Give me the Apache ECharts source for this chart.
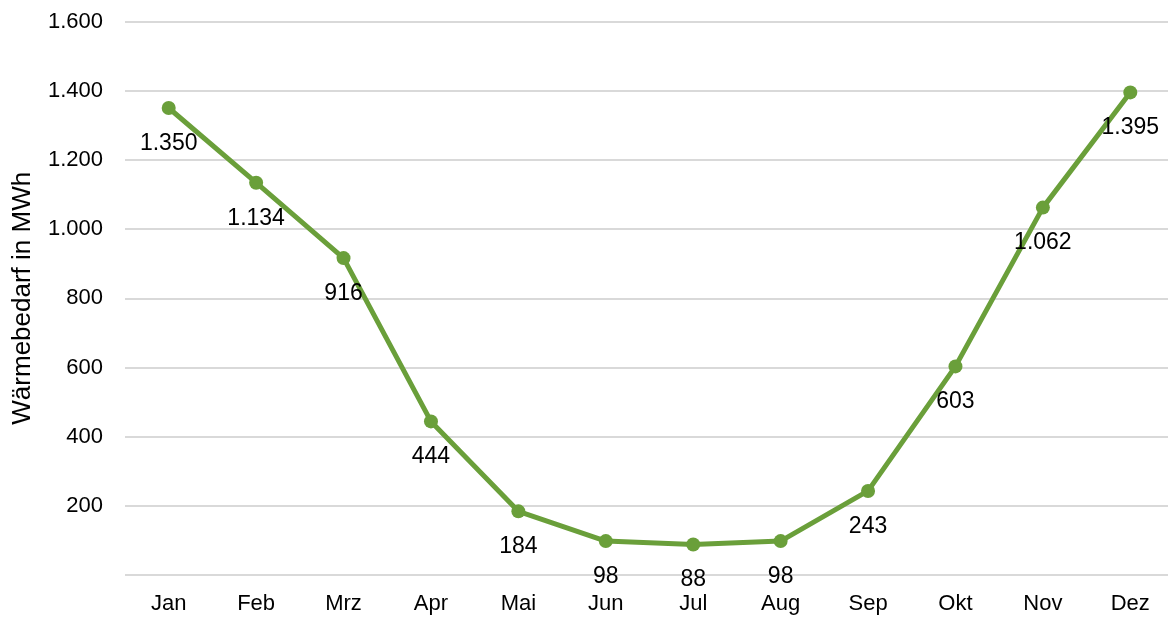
<!DOCTYPE html>
<html>
<head>
<meta charset="utf-8">
<script src="https://cdn.jsdelivr.net/npm/echarts@6/dist/echarts.min.js"></script>
<style>
  html, body { margin: 0; padding: 0; background: #fff; }
  #chart { width: 1168px; height: 618px; }
</style>
</head>
<body>
<div id="chart"></div>
<script>
// Monthly heat demand
const months = ['Jan', 'Feb', 'Mrz', 'Apr', 'Mai', 'Jun', 'Jul', 'Aug', 'Sep', 'Okt', 'Nov', 'Dez'];
const heatDemand = [1350, 1134, 916, 444, 184, 98, 88, 98, 243, 603, 1062, 1395];
const yTicks = [0, 200, 400, 600, 800, 1000, 1200, 1400, 1600];

// German thousands separator
function fmt(v) {
  return String(Math.round(v)).replace(/\B(?=(\d{3})+(?!\d))/g, '.');
}

const FONT = 'Liberation Sans, Arial, sans-serif';
const chart = echarts.init(document.getElementById('chart'), null, { renderer: 'canvas' });
chart.setOption({
  animation: false,
  backgroundColor: '#ffffff',
  grid: { left: 125, right: -6, top: 21.5, bottom: 43, containLabel: false, outerBoundsMode: 'none' },
  xAxis: {
    type: 'category',
    data: months,
    boundaryGap: true,
    axisLine: { show: false },
    axisTick: { show: false },
    axisLabel: { color: '#000', fontFamily: FONT, fontSize: 22, margin: 18 }
  },
  yAxis: {
    type: 'value',
    min: yTicks[0],
    max: yTicks[yTicks.length - 1],
    interval: 200,
    name: 'Wärmebedarf in MWh',
    nameLocation: 'middle',
    nameGap: 89,
    nameTextStyle: { color: '#000', fontFamily: FONT, fontSize: 26 },
    axisLine: { show: false },
    axisTick: { show: false },
    splitLine: { lineStyle: { color: '#d9d9d9', width: 2 } },
    axisLabel: {
      color: '#000', fontFamily: FONT, fontSize: 22, margin: 22,
      formatter: v => (v === 0 ? '' : fmt(v))
    }
  },
  series: [{
    type: 'line',
    data: heatDemand,
    symbol: 'circle',
    symbolSize: 14,
    lineStyle: { color: '#6a9f3a', width: 5 },
    itemStyle: { color: '#6a9f3a' },
    label: {
      show: true,
      position: 'bottom',
      distance: 17,
      color: '#000',
      fontFamily: FONT,
      fontSize: 23,
      formatter: p => fmt(p.value)
    },
    z: 3
  }]
});
</script>
</body>
</html>
